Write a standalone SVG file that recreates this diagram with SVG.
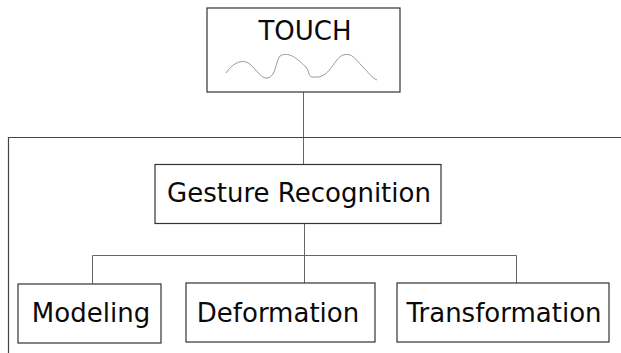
<svg xmlns="http://www.w3.org/2000/svg" width="621" height="353" viewBox="0 0 621 353">
  <style>
    .box { fill: #fff; stroke: #333; stroke-width: 1.2; }
    .lbl { font-family: "DejaVu Sans", sans-serif; font-size: 26px; fill: #0a0a0a; text-anchor: middle; }
    .wire { fill: none; stroke: #666; stroke-width: 1; }
    .frame { fill: none; stroke: #444; stroke-width: 1.2; }
  </style>
  <rect width="621" height="353" fill="#fff"/>

  <g id="connectors">
    <path class="wire" d="M303.5 92 V165"/>
    <path class="frame" d="M8.5 353 V137.5 H621"/>
    <path class="wire" d="M304.5 224 V284"/>
    <path class="wire" d="M92.5 284 V255.5 H516.5 V284"/>
  </g>

  <g id="touch">
    <rect class="box" x="207" y="8" width="193" height="84"/>
    <text class="lbl" x="305" y="40">TOUCH</text>
    <path d="M226 73 C232 64 240 60 246 62 C254 64 260 80 268 78 C276 76 276 60 280 56 C290 50 300 62 306 67 C310 72 308 78 314 77 C330 79 334 58 343 55 C352 52 356 60 362 66 C368 72 372 78 377 80" fill="none" stroke="#999" stroke-width="1"/>
  </g>

  <g id="gesture">
    <rect class="box" x="155" y="164.5" width="286" height="59"/>
    <text class="lbl" x="299" y="202">Gesture Recognition</text>
  </g>

  <g id="modeling">
    <rect class="box" x="18" y="284" width="143" height="59"/>
    <text class="lbl" x="91" y="322">Modeling</text>
  </g>

  <g id="deformation">
    <rect class="box" x="186" y="283" width="189" height="59"/>
    <text class="lbl" x="278" y="322">Deformation</text>
  </g>

  <g id="transformation">
    <rect class="box" x="397" y="283" width="212" height="59"/>
    <text class="lbl" x="504" y="322">Transformation</text>
  </g>
</svg>
